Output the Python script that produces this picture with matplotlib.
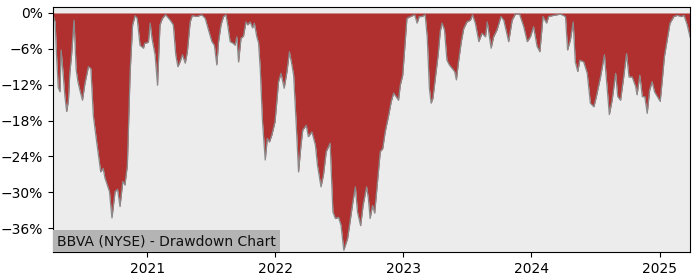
import matplotlib
matplotlib.use("Agg")
import matplotlib.pyplot as plt
import pandas as pd

title_text = "BBVA (NYSE) - Drawdown Chart"

dates = [
    "2020-04-07", "2020-04-13", "2020-04-17", "2020-04-22", "2020-04-27", "2020-04-30",
    "2020-05-05", "2020-05-11", "2020-05-16", "2020-05-21", "2020-05-25", "2020-05-30",
    "2020-06-06", "2020-06-12", "2020-06-17", "2020-06-23", "2020-06-30", "2020-07-07",
    "2020-07-17", "2020-07-24", "2020-07-31", "2020-08-10", "2020-08-21", "2020-08-28",
    "2020-09-02", "2020-09-15", "2020-09-22", "2020-10-01", "2020-10-08", "2020-10-15",
    "2020-10-23", "2020-10-29", "2020-11-05", "2020-11-13", "2020-11-20", "2020-11-27",
    "2020-12-03", "2020-12-11", "2020-12-21", "2020-12-24", "2021-01-04", "2021-01-09",
    "2021-01-14", "2021-01-23", "2021-01-30", "2021-02-06", "2021-02-13", "2021-02-22",
    "2021-03-07", "2021-03-16", "2021-03-23", "2021-03-29", "2021-04-04", "2021-04-11",
    "2021-04-19", "2021-04-25", "2021-05-03", "2021-05-09", "2021-05-22", "2021-06-05",
    "2021-06-15", "2021-06-24", "2021-07-04", "2021-07-11", "2021-07-18", "2021-07-23",
    "2021-07-30", "2021-08-06", "2021-08-13", "2021-08-18", "2021-08-25", "2021-09-03",
    "2021-09-08", "2021-09-13", "2021-09-18", "2021-09-25", "2021-10-02", "2021-10-09",
    "2021-10-14", "2021-10-21", "2021-10-28", "2021-11-02", "2021-11-09", "2021-11-14",
    "2021-11-19", "2021-11-25", "2021-12-03", "2021-12-09", "2021-12-15", "2021-12-22",
    "2021-12-31", "2022-01-10", "2022-01-17", "2022-01-26", "2022-02-03", "2022-02-10",
    "2022-02-17", "2022-02-22", "2022-03-01", "2022-03-08", "2022-03-15", "2022-03-20",
    "2022-03-30", "2022-04-05", "2022-04-15", "2022-04-25", "2022-05-01", "2022-05-11",
    "2022-05-18", "2022-05-26", "2022-06-06", "2022-06-14", "2022-06-21", "2022-06-30",
    "2022-07-07", "2022-07-15", "2022-07-26", "2022-08-02", "2022-08-10", "2022-08-17",
    "2022-08-23", "2022-09-01", "2022-09-08", "2022-09-18", "2022-09-23", "2022-09-28",
    "2022-10-05", "2022-10-11", "2022-10-20", "2022-10-27", "2022-11-03", "2022-11-10",
    "2022-11-20", "2022-11-27", "2022-12-04", "2022-12-11", "2022-12-18", "2022-12-23",
    "2022-12-30", "2023-01-04", "2023-01-11", "2023-01-21", "2023-02-02", "2023-02-09",
    "2023-02-15", "2023-02-23", "2023-03-04", "2023-03-10", "2023-03-16", "2023-03-21",
    "2023-03-26", "2023-04-02", "2023-04-10", "2023-04-16", "2023-04-21", "2023-04-28",
    "2023-05-05", "2023-05-12", "2023-05-20", "2023-05-27", "2023-06-01", "2023-06-07",
    "2023-06-15", "2023-06-22", "2023-07-01", "2023-07-11", "2023-07-17", "2023-07-25",
    "2023-08-04", "2023-08-13", "2023-08-23", "2023-08-28", "2023-09-08", "2023-09-15",
    "2023-09-25", "2023-10-06", "2023-10-14", "2023-10-28", "2023-11-07", "2023-11-16",
    "2023-11-28", "2023-12-10", "2023-12-20", "2023-12-29", "2024-01-07", "2024-01-17",
    "2024-01-25", "2024-02-03", "2024-02-13", "2024-02-19", "2024-03-04", "2024-03-24",
    "2024-04-07", "2024-04-13", "2024-04-21", "2024-04-29", "2024-05-05", "2024-05-12",
    "2024-05-18", "2024-05-29", "2024-06-08", "2024-06-17", "2024-06-27", "2024-07-04",
    "2024-07-16", "2024-07-27", "2024-08-02", "2024-08-10", "2024-08-18", "2024-08-28",
    "2024-09-03", "2024-09-11", "2024-09-20", "2024-09-28", "2024-10-05", "2024-10-14",
    "2024-10-24", "2024-10-28", "2024-11-05", "2024-11-12", "2024-11-19", "2024-11-26",
    "2024-12-03", "2024-12-10", "2024-12-17", "2024-12-25", "2025-01-02", "2025-01-08",
    "2025-01-14", "2025-01-22", "2025-01-30", "2025-02-10", "2025-02-20", "2025-03-03",
    "2025-03-11", "2025-03-20", "2025-03-28",
]

drawdown_pct = [
    -0.3, -1.5, -7.0, -12.5, -13.2, -6.2,
    -9.5, -14.0, -16.5, -14.6, -10.0, -7.0,
    -1.2, -9.5, -11.5, -13.0, -14.6, -11.8,
    -9.0, -9.3, -17.2, -21.8, -26.6, -26.0,
    -27.6, -29.9, -34.3, -29.9, -29.5, -32.4,
    -28.2, -28.8, -25.5, -9.8, -2.0, -0.45,
    -0.9, -5.4, -5.9, -5.1, -4.9, -1.7,
    -4.2, -7.0, -12.1, -2.0, -0.9, -0.3,
    -1.2, -2.0, -7.0, -9.0, -8.2, -7.0,
    -8.4, -6.5, -1.5, -0.45, -0.6, -0.3,
    -0.9, -2.8, -4.8, -5.4, -8.7, -4.8,
    -2.0, -0.6, -0.3, -2.0, -4.8, -5.1,
    -5.4, -4.0, -8.2, -4.2, -3.9, -1.5,
    -2.0, -1.5, -2.5, -1.7, -4.0, -5.0,
    -9.5, -18.0, -24.6, -21.0, -21.6, -20.4,
    -18.2, -11.5, -10.1, -12.6, -9.8, -6.5,
    -8.7, -10.4, -18.2, -26.6, -22.1, -19.6,
    -18.8, -20.7, -19.9, -22.1, -25.5, -29.1,
    -27.1, -23.2, -21.8, -33.3, -34.4, -34.2,
    -35.5, -39.7, -37.7, -34.9, -31.6, -29.1,
    -33.3, -35.6, -32.2, -29.1, -31.0, -34.4,
    -32.2, -33.5, -27.7, -23.2, -22.7, -19.9,
    -17.1, -14.9, -13.4, -14.0, -14.6, -12.1,
    -10.4, -6.5, -0.9, -0.6, -0.3, -1.7,
    -0.6, -0.6, -0.3, -4.2, -12.6, -15.1,
    -14.3, -10.9, -7.0, -3.1, -1.7, -2.8,
    -7.9, -8.7, -9.3, -9.8, -11.2, -8.2,
    -4.8, -2.6, -1.5, -1.2, -0.3, -1.7,
    -4.8, -3.4, -4.0, -1.5, -5.9, -4.0,
    -2.8, -0.6, -1.2, -4.8, -1.2, -0.2,
    -0.2, -2.3, -4.8, -4.0, -2.3, -5.6,
    -6.5, -0.6, -1.7, -0.6, -0.4, -0.2,
    -0.6, -6.2, -4.5, -1.5, -8.2, -9.8,
    -7.9, -8.2, -10.1, -15.1, -15.7, -14.0,
    -10.7, -7.0, -11.2, -17.0, -14.6, -10.1,
    -14.0, -14.6, -10.7, -6.8, -10.7, -10.7,
    -12.3, -13.7, -10.4, -14.0, -14.0, -16.8,
    -12.9, -11.5, -13.2, -14.0, -14.8, -11.2,
    -7.3, -4.5, -1.7, -0.6, -0.4, -0.6,
    -0.4, -2.0, -4.0,
]

y_ticks = [0, -6, -12, -18, -24, -30, -36]
x_tick_years = [2021, 2022, 2023, 2024, 2025]

x = pd.to_datetime(dates)

fig = plt.figure(figsize=(7, 2.8), dpi=100)
ax = fig.add_axes([53 / 700, 1 - 252 / 280, (690 - 53) / 700, (252 - 7) / 280])
ax.set_facecolor("#ececec")

ax.fill_between(x, drawdown_pct, 0, color="#b03030", linewidth=0)
ax.plot(x, drawdown_pct, color="#8a8a8a", linewidth=0.9)

ax.set_xlim(x[0], x[-1])
ax.set_ylim(-40, 1)
ax.set_yticks(y_ticks)
ax.set_yticklabels([f"{v}%".replace("-", "\u2212") for v in y_ticks])
ax.set_xticks([pd.Timestamp(f"{y}-01-01") for y in x_tick_years])
ax.set_xticklabels([str(y) for y in x_tick_years])
ax.tick_params(labelsize=10)

pad_pt = 2.8
ax.annotate(title_text, xy=(0, 0), xycoords="axes fraction",
            xytext=(pad_pt, pad_pt), textcoords="offset points",
            ha="left", va="bottom", fontsize=10, color="#111111",
            bbox=dict(facecolor="#b4b4b4", edgecolor="none", pad=pad_pt))

fig.savefig("out.png", dpi=100)
